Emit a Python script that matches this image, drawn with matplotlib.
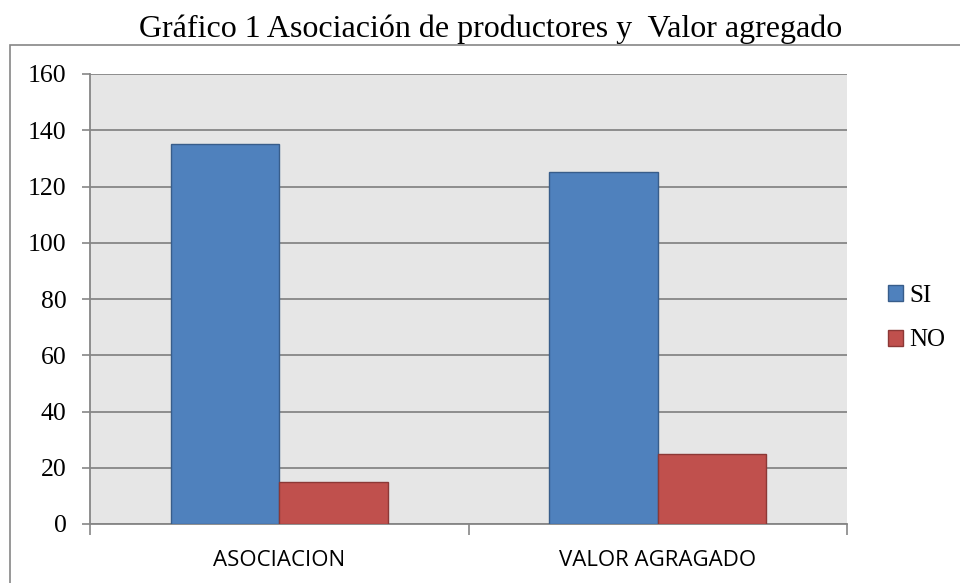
import numpy as np
import matplotlib.pyplot as plt
from matplotlib.patches import Rectangle, Patch

categorias = ["ASOCIACION", "VALOR AGRAGADO"]
si = [135, 125]
no = [15, 25]
series = ["SI", "NO"]
yticks = [0, 20, 40, 60, 80, 100, 120, 140, 160]

azul, azul_borde = "#4f81bd", "#385d8a"
rojo, rojo_borde = "#c0504d", "#8c3836"
gris = "#868686"

fig = plt.figure(figsize=(9.6, 5.83), dpi=100)
ax = fig.add_axes([90/960, 1-524/583, (847-90)/960, (524-74)/583])

# marco exterior del grafico
fig.patches.append(Rectangle((10/960, -0.05), 1.0, 1-45/583+0.05, transform=fig.transFigure,
                             fill=False, edgecolor=gris, linewidth=1.2))

fig.text(491/960, 1-29/583, "Gráfico 1 Asociación de productores y  Valor agregado",
         ha="center", va="center", family="Liberation Serif", fontsize=23)

x = np.arange(len(categorias)) + 0.5
w = 0.287
ax.bar(x - w/2, si, w, color=azul, edgecolor=azul_borde, linewidth=1, label=series[0], zorder=3)
ax.bar(x + w/2, no, w, color=rojo, edgecolor=rojo_borde, linewidth=1, label=series[1], zorder=3)

ax.set_facecolor("#e6e6e6")
ax.set_xlim(0, 2)
ax.set_ylim(0, 160)
ax.set_yticks(yticks)
ax.set_yticklabels([str(v) for v in yticks], family="Liberation Serif", fontsize=18.5)
ax.yaxis.grid(True, color=gris, linewidth=1.3, zorder=0)
ax.set_axisbelow(True)

ax.set_xticks([0, 1, 2])
ax.set_xticklabels([])
ax.set_xticks(x, minor=True)
ax.set_xticklabels(categorias, minor=True, family="Open Sans", fontsize=16)
ax.tick_params(axis="x", which="minor", length=0, pad=19)
ax.tick_params(axis="x", which="major", length=8, color=gris, width=1.2)
ax.tick_params(axis="y", length=6, color=gris, width=1.2, pad=11)

for s in ["top", "right"]:
    ax.spines[s].set_visible(False)
for s in ["left", "bottom"]:
    ax.spines[s].set_color(gris)
    ax.spines[s].set_linewidth(1.3)

handles = [Patch(facecolor=azul, edgecolor=azul_borde), Patch(facecolor=rojo, edgecolor=rojo_borde)]
fig.legend(handles, series, loc="center left", bbox_to_anchor=(888/960, 1-318/583),
           frameon=False, prop={"family": "Liberation Serif", "size": 18},
           borderpad=0, borderaxespad=0,
           handlelength=0.6, handleheight=0.6, handletextpad=0.25, labelspacing=0.92)

fig.savefig("out.png", dpi=100)
